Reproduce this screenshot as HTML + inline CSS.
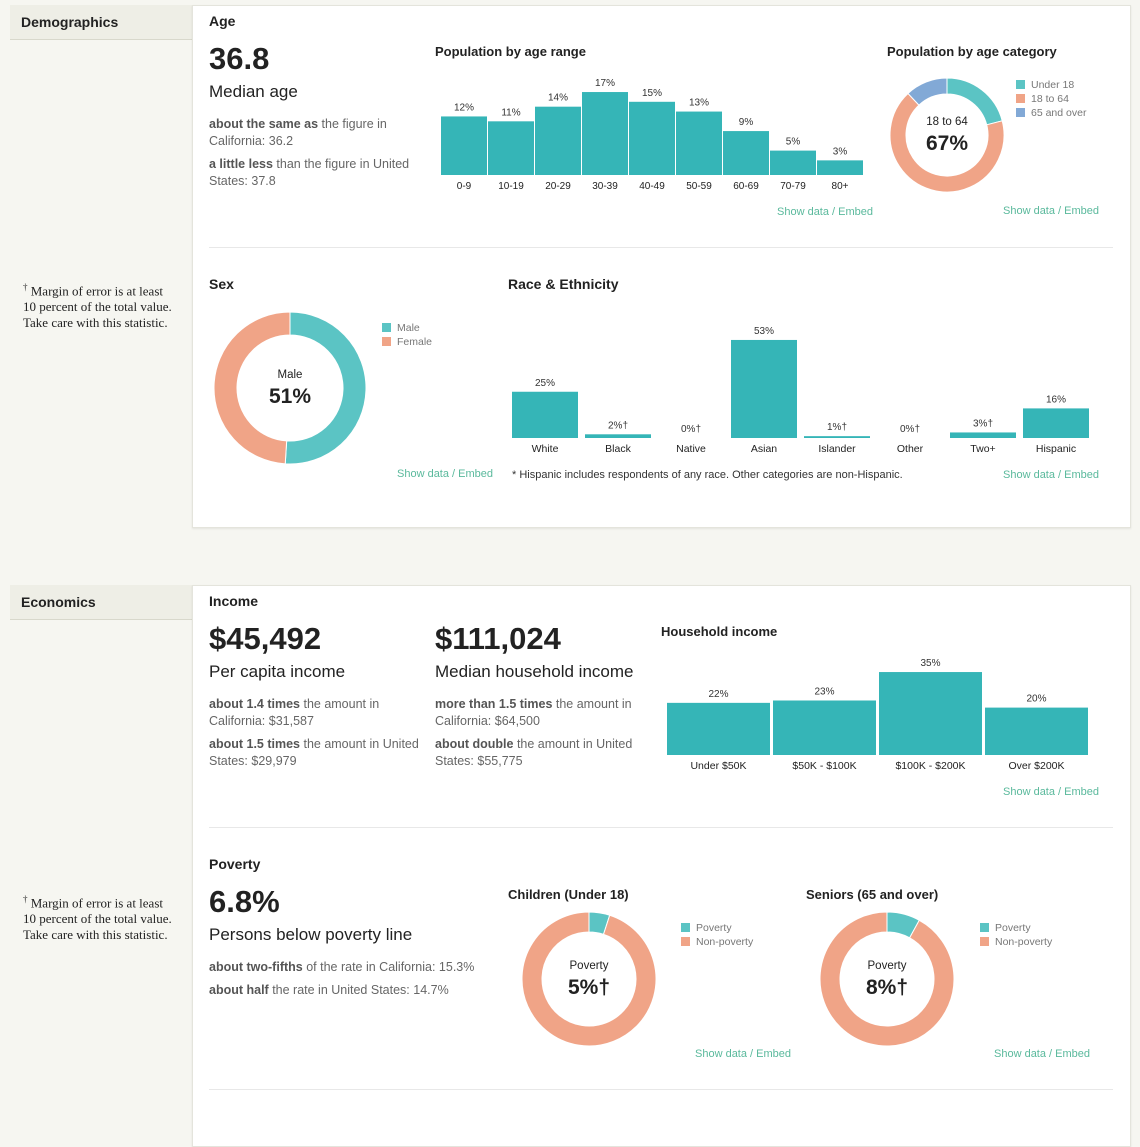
<!DOCTYPE html>
<html><head><meta charset="utf-8"><style>
body{margin:0;width:1140px;height:1121px;overflow:hidden;background:#f6f6f1;font-family:"Liberation Sans",sans-serif;color:#222;position:relative}
.a{position:absolute}
.card{position:absolute;background:#fff;border:1px solid #e4e4dc;box-shadow:0 1px 2px rgba(0,0,0,.08)}
.tab{position:absolute;left:10px;width:182px;height:35px;background:#eeeee6;border-bottom:1px solid #d8d8cc;font-weight:bold;font-size:14px;line-height:35px;box-sizing:border-box;padding-left:11px}
.h{font-weight:bold;font-size:14px}
.ct{font-weight:bold;font-size:13px}
.big{font-weight:bold;font-size:31px}
.sub{font-size:17px}
.g{font-size:12.5px;color:#666;line-height:17px}
.g b{color:#555}
.lnk{font-size:11px;color:#5ab99c}
.fn{font-family:"Liberation Serif",serif;font-size:13px;line-height:16px;width:152px}
.hr{position:absolute;left:209px;width:904px;height:1px;background:#e8e8e8}
svg{position:absolute;left:0;top:0}
svg text{font-family:"Liberation Sans",sans-serif}
</style></head><body>
<div class="tab" style="top:5px">Demographics</div>
<div class="tab" style="top:585px">Economics</div>
<div class="card" style="left:192px;top:5px;width:937px;height:521px"></div>
<div class="card" style="left:192px;top:585px;width:937px;height:560px"></div>

<div class="a fn" style="left:23px;top:279px"><sup style="font-size:9px">†</sup> Margin of error is at least 10 percent of the total value. Take care with this statistic.</div>
<div class="a fn" style="left:23px;top:891px"><sup style="font-size:9px">†</sup> Margin of error is at least 10 percent of the total value. Take care with this statistic.</div>

<div class="a h" style="left:209px;top:13px">Age</div>
<div class="a big" style="left:209px;top:41px">36.8</div>
<div class="a sub" style="left:209px;top:82px">Median age</div>
<div class="a g" style="left:209px;top:116px;width:210px"><b>about the same as</b> the figure in California: 36.2</div>
<div class="a g" style="left:209px;top:156px;width:210px"><b>a little less</b> than the figure in United States: 37.8</div>
<div class="a ct" style="left:435px;top:44px">Population by age range</div>
<div class="a ct" style="left:887px;top:44px">Population by age category</div>
<div class="a lnk" style="left:777px;top:206px">Show data / Embed</div>
<div class="a lnk" style="left:1003px;top:205px">Show data / Embed</div>
<div class="hr" style="top:247px"></div>

<div class="a h" style="left:209px;top:276px">Sex</div>
<div class="a h" style="left:508px;top:276px">Race &amp; Ethnicity</div>
<div class="a lnk" style="left:397px;top:468px">Show data / Embed</div>
<div class="a lnk" style="left:1003px;top:469px">Show data / Embed</div>
<div class="a" style="left:512px;top:469px;font-size:11px;color:#333">* Hispanic includes respondents of any race. Other categories are non-Hispanic.</div>

<div class="a h" style="left:209px;top:593px">Income</div>
<div class="a big" style="left:209px;top:621px">$45,492</div>
<div class="a sub" style="left:209px;top:662px">Per capita income</div>
<div class="a g" style="left:209px;top:696px;width:215px"><b>about 1.4 times</b> the amount in California: $31,587</div>
<div class="a g" style="left:209px;top:736px;width:215px"><b>about 1.5 times</b> the amount in United States: $29,979</div>
<div class="a big" style="left:435px;top:621px">$111,024</div>
<div class="a sub" style="left:435px;top:662px">Median household income</div>
<div class="a g" style="left:435px;top:696px;width:210px"><b>more than 1.5 times</b> the amount in California: $64,500</div>
<div class="a g" style="left:435px;top:736px;width:210px"><b>about double</b> the amount in United States: $55,775</div>
<div class="a ct" style="left:661px;top:624px">Household income</div>
<div class="a lnk" style="left:1003px;top:786px">Show data / Embed</div>
<div class="hr" style="top:827px"></div>

<div class="a h" style="left:209px;top:856px">Poverty</div>
<div class="a big" style="left:209px;top:884px">6.8%</div>
<div class="a sub" style="left:209px;top:925px">Persons below poverty line</div>
<div class="a g" style="left:209px;top:959px"><b>about two-fifths</b> of the rate in California: 15.3%</div>
<div class="a g" style="left:209px;top:982px"><b>about half</b> the rate in United States: 14.7%</div>
<div class="a ct" style="left:508px;top:887px">Children (Under 18)</div>
<div class="a ct" style="left:806px;top:887px">Seniors (65 and over)</div>
<div class="a lnk" style="left:695px;top:1048px">Show data / Embed</div>
<div class="a lnk" style="left:994px;top:1048px">Show data / Embed</div>
<div class="hr" style="top:1089px"></div>

<svg id="ch" width="1140" height="1121"></svg>
<script>
const ageCats=["0-9","10-19","20-29","30-39","40-49","50-59","60-69","70-79","80+"];
const ageVals=[12,11,14,17,15,13,9,5,3];
const ageCatLabels=["Under 18","18 to 64","65 and over"];
const ageCatVals=[21,67,12];
const sexLabels=["Male","Female"];
const sexVals=[51,49];
const raceCats=["White","Black","Native","Asian","Islander","Other","Two+","Hispanic"];
const raceVals=[25,2,0,53,1,0,3,16];
const raceMoe=[false,true,true,false,true,true,true,false];
const incCats=["Under $50K","$50K - $100K","$100K - $200K","Over $200K"];
const incVals=[22,23,35,20];
const childPov=[5,95];
const seniorPov=[8,92];
const povLabels=["Poverty","Non-poverty"];

const S=document.getElementById('ch'),NS="http://www.w3.org/2000/svg";
function el(t,a,txt){const e=document.createElementNS(NS,t);for(const k in a)e.setAttribute(k,a[k]);if(txt!=null)e.textContent=txt;S.appendChild(e);return e;}
const TEAL="#35b5b7",DT="#5bc4c4",SAL="#f0a487",BLU="#82a9d6";

function bars(cats,vals,x0,pitch,w,base,scale,fs,name,moe){
  cats.forEach((c,i)=>{
    const h=vals[i]*scale,x=x0+i*pitch;
    const r=el('rect',{x:x,y:base-h,width:w,height:h,fill:TEAL});
    
    
    const t=el('text',{x:x+w/2,y:base-h-6,'text-anchor':'middle','font-size':10,fill:'#333'},vals[i]+'%'+(moe&&moe[i]?'†':''));
    
    
    const l=el('text',{x:x+w/2,y:base+14,'text-anchor':'middle','font-size':fs,fill:'#222'},c);
    
    
  });
}
bars(ageCats,ageVals,441,47,46,175,4.88,10,'age');
bars(raceCats,raceVals,512,73,66,438,1.85,10.5,'race',raceMoe);
bars(incCats,incVals,667,106,103,755,2.37,10.5,'income');

function donut(vals,cols,cx,cy,R,r,name){
  const tot=vals.reduce((a,b)=>a+b,0);let a0=0;
  vals.forEach((v,i)=>{
    const a1=a0+v/tot*2*Math.PI;
    const p=(a,rr)=>[cx+rr*Math.sin(a),cy-rr*Math.cos(a)];
    const lg=(a1-a0)>Math.PI?1:0;
    const [x1,y1]=p(a0,R),[x2,y2]=p(a1,R),[x3,y3]=p(a1,r),[x4,y4]=p(a0,r);
    const e=el('path',{d:`M${x1} ${y1}A${R} ${R} 0 ${lg} 1 ${x2} ${y2}L${x3} ${y3}A${r} ${r} 0 ${lg} 0 ${x4} ${y4}Z`,fill:cols[i],stroke:'#fff','stroke-width':1});
    
    
    a0=a1;
  });
}
function legend(labels,cols,x,y,name){
  labels.forEach((l,i)=>{
    const r=el('rect',{x:x,y:y+i*14-8,width:9,height:9,fill:cols[i]});
    
    
    const t=el('text',{x:x+15,y:y+i*14,'font-size':10.5,fill:'#777'},l);
    
    
  });
}
function center(cx,cy,lab,val,name,dag){
  const a=el('text',{x:cx,y:cy-10,'text-anchor':'middle','font-size':11.5,fill:'#222'},lab);
  
  
  const b=el('text',{x:cx,y:cy+15,'text-anchor':'middle','font-size':21,'font-weight':'bold',fill:'#222'},val+(dag?'†':''));
  
  
}
donut(ageCatVals,[DT,SAL,BLU],947,135,57,41,'age-category');
legend(ageCatLabels,[DT,SAL,BLU],1016,88,'age-category');
center(947,135,ageCatLabels[1],ageCatVals[1]+'%','age-category');
donut(sexVals,[DT,SAL],290,388,76,53,'sex');
legend(sexLabels,[DT,SAL],382,331,'sex');
center(290,388,sexLabels[0],sexVals[0]+'%','sex');
donut(childPov,[DT,SAL],589,979,67,47,'children-poverty');
legend(povLabels,[DT,SAL],681,931,'children-poverty');
center(589,979,povLabels[0],childPov[0]+'%','children-poverty',true);
donut(seniorPov,[DT,SAL],887,979,67,47,'seniors-poverty');
legend(povLabels,[DT,SAL],980,931,'seniors-poverty');
center(887,979,povLabels[0],seniorPov[0]+'%','seniors-poverty',true);
</script>
</body></html>
